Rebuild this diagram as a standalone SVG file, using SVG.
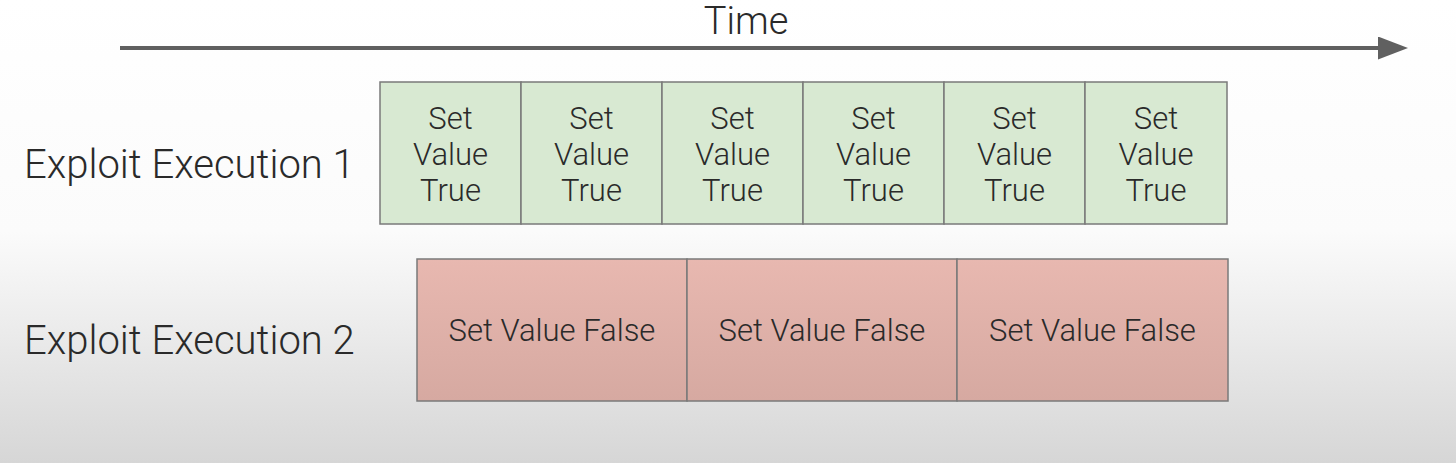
<svg xmlns="http://www.w3.org/2000/svg" width="1456" height="463" viewBox="0 0 1456 463">
<defs>
<linearGradient id="bg" x1="0" y1="0" x2="0" y2="1">
<stop offset="0" stop-color="#ffffff"/>
<stop offset="0.5" stop-color="#fbfbfb"/>
<stop offset="1" stop-color="#d6d6d6"/>
</linearGradient>
<linearGradient id="red" x1="0" y1="0" x2="0" y2="1">
<stop offset="0" stop-color="#e8b8b0"/>
<stop offset="1" stop-color="#d6a9a1"/>
</linearGradient>
<marker id="ah" viewBox="0 0 30 23" refX="0" refY="11.5" markerWidth="7.5" markerHeight="5.75" markerUnits="strokeWidth" orient="auto">
<path d="M0,0 L30,11.5 L0,23 z" fill="#606060"/>
</marker>
<style>
.t{font-family:Roboto,"Liberation Sans",sans-serif;font-weight:300;fill:#2a2a2a}
.g{fill:#d8e9d2;stroke:#7a7a7a;stroke-width:1.5}
.r{fill:url(#red);stroke:#7a7a7a;stroke-width:1.5}
.c{font-size:31px;text-anchor:middle}
</style>
</defs>
<rect width="1456" height="463" fill="url(#bg)"/>
<g id="connectors">
<line x1="120" y1="48" x2="1378" y2="48" stroke="#606060" stroke-width="4" marker-end="url(#ah)"/>
</g>
<text class="t" x="746" y="34" font-size="38" text-anchor="middle">Time</text>
<text class="t" x="24" y="178" font-size="40">Exploit Execution 1</text>
<text class="t" x="24" y="354" font-size="40">Exploit Execution 2</text>
<g id="true1"><rect class="g" x="380" y="82" width="141" height="142"/><text class="t c"><tspan x="450.5" y="129">Set</tspan><tspan x="450.5" y="165">Value</tspan><tspan x="450.5" y="201">True</tspan></text></g>
<g id="true2"><rect class="g" x="521" y="82" width="141" height="142"/><text class="t c"><tspan x="591.5" y="129">Set</tspan><tspan x="591.5" y="165">Value</tspan><tspan x="591.5" y="201">True</tspan></text></g>
<g id="true3"><rect class="g" x="662" y="82" width="141" height="142"/><text class="t c"><tspan x="732.5" y="129">Set</tspan><tspan x="732.5" y="165">Value</tspan><tspan x="732.5" y="201">True</tspan></text></g>
<g id="true4"><rect class="g" x="803" y="82" width="141" height="142"/><text class="t c"><tspan x="873.5" y="129">Set</tspan><tspan x="873.5" y="165">Value</tspan><tspan x="873.5" y="201">True</tspan></text></g>
<g id="true5"><rect class="g" x="944" y="82" width="141" height="142"/><text class="t c"><tspan x="1014.5" y="129">Set</tspan><tspan x="1014.5" y="165">Value</tspan><tspan x="1014.5" y="201">True</tspan></text></g>
<g id="true6"><rect class="g" x="1085" y="82" width="142" height="142"/><text class="t c"><tspan x="1156" y="129">Set</tspan><tspan x="1156" y="165">Value</tspan><tspan x="1156" y="201">True</tspan></text></g>
<g id="false1"><rect class="r" x="417" y="259" width="270" height="142"/><text class="t c" x="552" y="341">Set Value False</text></g>
<g id="false2"><rect class="r" x="687" y="259" width="270" height="142"/><text class="t c" x="822" y="341">Set Value False</text></g>
<g id="false3"><rect class="r" x="957" y="259" width="271" height="142"/><text class="t c" x="1092.5" y="341">Set Value False</text></g>
</svg>
